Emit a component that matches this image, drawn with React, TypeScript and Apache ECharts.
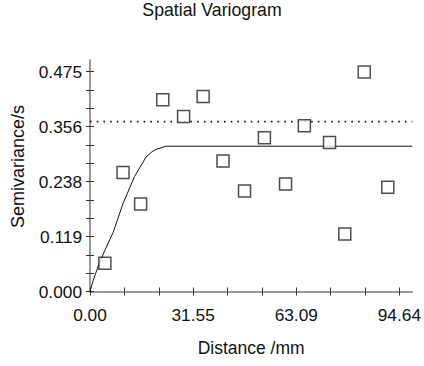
import React, { useEffect, useRef } from "react";
import * as echarts from "echarts";

const title = "Spatial Variogram";
const xName = "Distance /mm";
const yName = "Semivariance/s";

const xLabelValues = [0, 31.547, 63.093, 94.64];
const xLabelTexts = ["0.00", "31.55", "63.09", "94.64"];
const xTickValues = [0, 10.516, 21.031, 31.547, 42.062, 52.578, 63.093, 73.609, 84.124, 94.64];
const yLabelValues = [0, 0.11875, 0.2375, 0.35625, 0.475];
const yLabelTexts = ["0.000", "0.119", "0.238", "0.356", "0.475"];
const yTickValues = [0, 0.03958, 0.07917, 0.11875, 0.15833, 0.19792, 0.2375, 0.27708, 0.31667, 0.35625, 0.39583, 0.43542, 0.475];

const observed: [number, number][] = [
  [4.55, 0.061], [10.11, 0.257], [15.49, 0.189], [22.26, 0.414], [28.63, 0.378],
  [34.61, 0.421], [40.69, 0.282], [47.27, 0.217], [53.35, 0.332], [59.81, 0.232],
  [65.58, 0.358], [73.27, 0.322], [77.94, 0.124], [83.9, 0.474], [91.1, 0.225],
];

const model: [number, number][] = [
  [0, 0], [0.6, 0.015], [1.0, 0.024], [2.5, 0.055], [4.55, 0.089], [7.1, 0.128],
  [10.1, 0.19], [13.6, 0.248], [17.2, 0.291], [19.0, 0.302], [20.2, 0.307], [21.5, 0.31],
  [23.3, 0.3138], [98.6, 0.3138],
];

const sill: [number, number][] = [[0, 0.367], [98.6, 0.367]];

const X_MAX = 98.6;
const Y_MAX = 0.5;
const FONT = "Liberation Sans, Arial, sans-serif";
const AXIS_COLOR = "#7a7a7a";

function pick(values: number[], texts: string[], v: number) {
  for (let i = 0; i < values.length; i++) {
    if (Math.abs(values[i] - v) < 1e-6) return texts[i];
  }
  return "";
}

export default function App() {
  const ref = useRef<HTMLDivElement>(null);
  useEffect(() => {
    if (!ref.current) return;
    const chart = echarts.init(ref.current, null, { renderer: "svg" });
    const tickStyle = { color: "#333", width: 1 };
    chart.setOption({
      animation: false,
      backgroundColor: "#ffffff",
      title: {
        text: title,
        left: "center",
        top: 0,
        padding: [0, 0, 0, 0],
        textStyle: { fontFamily: FONT, fontSize: 17.7, fontWeight: "normal", color: "#111", lineHeight: 20 },
      },
      grid: { left: 90, right: 9, top: 60, bottom: 74.5, containLabel: false },
      xAxis: [
        {
          type: "value",
          min: 0,
          max: X_MAX,
          position: "bottom",
          splitLine: { show: false },
          axisLine: { onZero: false, lineStyle: { color: AXIS_COLOR, width: 1.5 } },
          axisTick: { show: true, inside: false, length: 4, customValues: xTickValues, lineStyle: tickStyle },
          axisLabel: {
            customValues: xLabelValues,
            formatter: (v: number) => pick(xLabelValues, xLabelTexts, v),
            margin: 15,
            fontFamily: FONT,
            fontSize: 17.3,
            color: "#111",
          },
          name: xName,
          nameLocation: "middle",
          nameGap: 47,
          nameTextStyle: { fontFamily: FONT, fontSize: 17.5, color: "#111" },
        },
        {
          type: "value",
          min: 0,
          max: X_MAX,
          position: "top",
          splitLine: { show: false },
          axisLine: { show: false, onZero: true, onZeroAxisIndex: 0 },
          axisTick: { show: true, inside: false, length: 4, customValues: xTickValues, lineStyle: tickStyle },
          axisLabel: { show: false },
        },
      ],
      yAxis: [
        {
          type: "value",
          min: 0,
          max: Y_MAX,
          position: "left",
          splitLine: { show: false },
          axisLine: { onZero: false, lineStyle: { color: AXIS_COLOR, width: 1.5 } },
          axisTick: { show: true, inside: false, length: 4, customValues: yTickValues, lineStyle: tickStyle },
          axisLabel: {
            customValues: yLabelValues,
            formatter: (v: number) => pick(yLabelValues, yLabelTexts, v),
            margin: 8,
            fontFamily: FONT,
            fontSize: 17.3,
            color: "#111",
          },
        },
        {
          type: "value",
          min: 0,
          max: Y_MAX,
          position: "right",
          splitLine: { show: false },
          axisLine: { show: false, onZero: true, onZeroAxisIndex: 0 },
          axisTick: { show: true, inside: false, length: 4, customValues: yTickValues, lineStyle: tickStyle },
          axisLabel: { show: false },
        },
      ],
      graphic: [
        {
          type: "text",
          x: 17.5,
          y: 166.5,
          rotation: Math.PI / 2,
          style: {
            text: yName,
            fontFamily: FONT,
            fontSize: 18,
            fill: "#111",
            align: "center",
            verticalAlign: "middle",
          },
        },
      ],
      series: [
        {
          type: "line",
          data: sill,
          symbol: "none",
          lineStyle: { color: "#111", width: 1.8, type: [1.6, 5.1] },
          z: 2,
        },
        {
          type: "line",
          data: model,
          symbol: "none",
          lineStyle: { color: "#111", width: 1 },
          z: 3,
        },
        {
          type: "scatter",
          data: observed,
          symbol: "rect",
          symbolSize: 12,
          itemStyle: { color: "#ffffff", borderColor: "#222", borderWidth: 1.5 },
          z: 5,
        },
      ],
    });
    return () => chart.dispose();
  }, []);
  return (
    <div style={{ width: 424, height: 366, overflow: "hidden", position: "absolute", left: 0, top: 0 }}>
      <div ref={ref} style={{ width: 424, height: 366 }} />
    </div>
  );
}
